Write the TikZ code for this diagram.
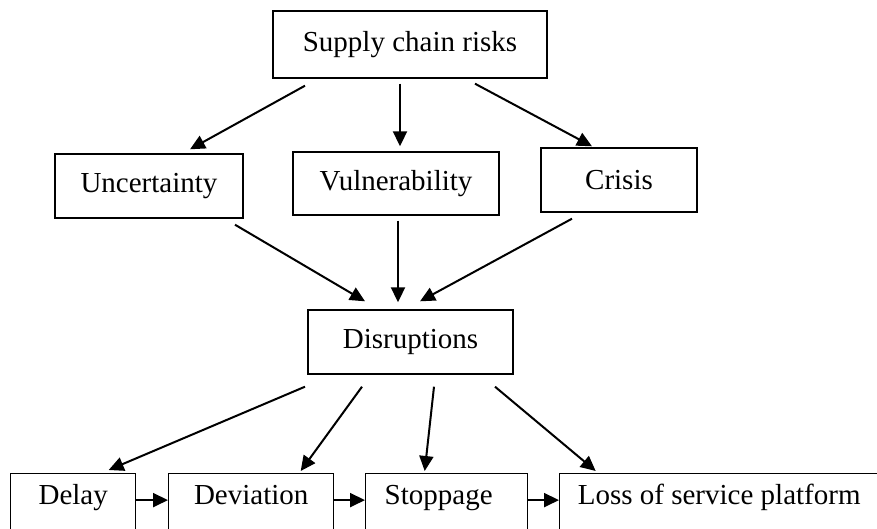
\documentclass[tikz,border=0pt]{standalone}
\usepackage{fontspec}
\setmainfont{Liberation Serif}
\usetikzlibrary{arrows.meta}

\begin{document}
\begin{tikzpicture}[x=0.5pt, y=-0.5pt, ->, >={Triangle[length=7.5pt,width=7pt]}, line width=1pt,
    box/.style={draw, rectangle, line width=0.7pt, inner sep=0pt,
      font=\fontsize{14.5}{17}\selectfont},
    lowbox/.style={box, anchor=north west, minimum height=0pt,
      text height=15.5pt, text depth=30pt}]
      \useasboundingbox (0,0) rectangle (877,529);
      \clip (0,0) rectangle (877,529);
      % top levels
      \node[box, minimum width=137pt, minimum height=33.5pt] (risks) at (410,44.5) {Supply chain risks};
      \node[box, minimum width=94pt, minimum height=32pt] (uncert) at (149,186) {Uncertainty};
      \node[box, minimum width=103pt, minimum height=31.5pt] (vuln) at (396,183.5) {Vulnerability};
      \node[box, minimum width=78pt, minimum height=32pt] (crisis) at (619,180) {Crisis};
      \node[box, minimum width=102.5pt, minimum height=32pt] (disr) at (410.5,342) {Disruptions};
      % bottom row
      \node[lowbox, minimum width=62.5pt] (delay) at (10,473) {Delay};
      \node[lowbox, minimum width=82.5pt] (deviation) at (168,473) {Deviation};
      \node[lowbox, align=left, text width=81pt, inner xsep=0pt] (stoppage) at (365,473) {\hspace*{9.5pt}Stoppage};
      \node[lowbox, minimum width=159.5pt] (loss) at (559,473) {Loss of service platform};
      % connectors
      \draw ([shift={(-105,7)}]risks.south) -- ([shift={(41,-4)}]uncert.north);
      \draw ([shift={(-10,5)}]risks.south) -- ([shift={(4,-5)}]vuln.north);
      \draw ([shift={(65,5)}]risks.south) -- ([shift={(-27,-1)}]crisis.north);
      \draw ([shift={(86,6)}]uncert.south) -- ([shift={(-45.5,-8)}]disr.north);
      \draw ([shift={(2,5)}]vuln.south) -- ([shift={(-12.5,-7)}]disr.north);
      \draw ([shift={(-47,6)}]crisis.south) -- ([shift={(9.5,-8)}]disr.north);
      \draw ([shift={(-105.5,12)}]disr.south) -- ([shift={(35.5,-3)}]delay.north);
      \draw ([shift={(-48.5,12)}]disr.south) -- ([shift={(49.5,-2)}]deviation.north);
      \draw ([shift={(23.5,12)}]disr.south) -- ([shift={(-22,-2)}]stoppage.north);
      \draw ([shift={(84.5,12)}]disr.south) -- ([shift={(-123.5,-2)}]loss.north);
      \draw (delay.mid east) -- (deviation.mid west);
      \draw (deviation.mid east) -- (stoppage.mid west);
      \draw (stoppage.mid east) -- (loss.mid west);
\end{tikzpicture}
\end{document}
